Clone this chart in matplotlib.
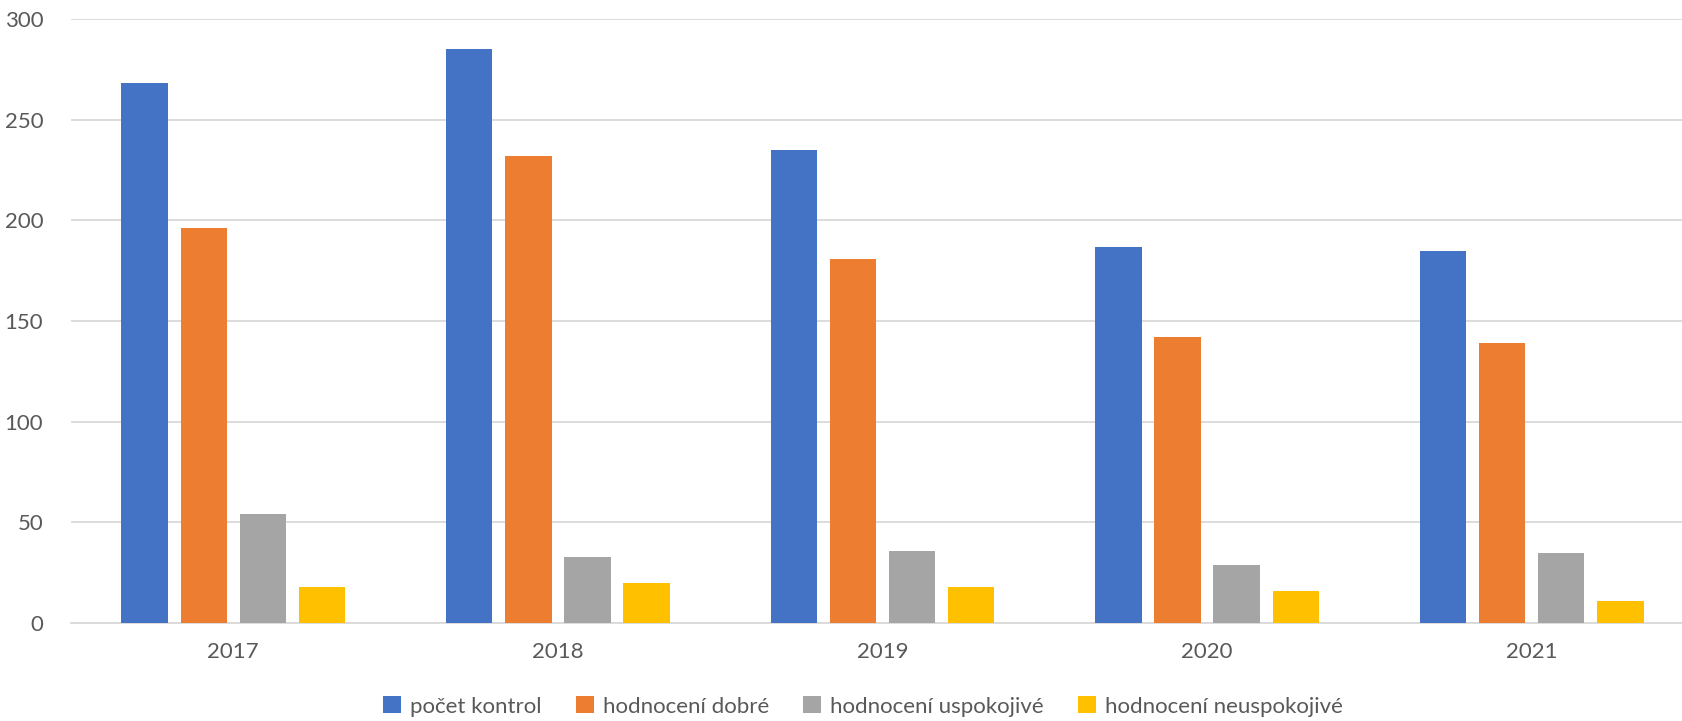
import matplotlib
matplotlib.use("Agg")
import matplotlib.pyplot as plt
import numpy as np
from matplotlib.patches import Patch

years = ["2017", "2018", "2019", "2020", "2021"]
series_names = ["počet kontrol", "hodnocení dobré", "hodnocení uspokojivé", "hodnocení neuspokojivé"]
pocet_kontrol = [268, 285, 235, 187, 185]
hodnoceni_dobre = [196, 232, 181, 142, 139]
hodnoceni_uspokojive = [54, 33, 36, 29, 35]
hodnoceni_neuspokojive = [18, 20, 18, 16, 11]
colors = ["#4472C4", "#ED7D31", "#A5A5A5", "#FFC000"]

plt.rcParams['font.family'] = ['Lato', 'DejaVu Sans']

fig = plt.figure(figsize=(16.82, 7.21), dpi=100)
ax = fig.add_axes([71/1682, 98/721, 1623/1682, 604/721])

x = np.arange(len(years))
step = 0.182
width = 0.143
all_series = [pocet_kontrol, hodnoceni_dobre, hodnoceni_uspokojive, hodnoceni_neuspokojive]
for i, (vals, c) in enumerate(zip(all_series, colors)):
    ax.bar(x + (i - 1.5) * step, vals, width=width, color=c, zorder=3)

ax.set_xlim(-0.5, 4.5)
ax.set_ylim(0, 300)
ax.set_yticks(range(0, 301, 50))
ax.set_xticks(x)
ax.set_xticklabels(years)
ax.grid(axis='y', color='#D9D9D9', linewidth=1.3, zorder=0)
for s in ['top', 'right', 'left']:
    ax.spines[s].set_visible(False)
ax.spines['bottom'].set_color('#D9D9D9')
ax.spines['bottom'].set_linewidth(1.3)
ax.tick_params(axis='both', length=0, labelsize=16, labelcolor='#595959')
ax.tick_params(axis='y', pad=20)
ax.tick_params(axis='x', pad=14)

handles = [Patch(facecolor=c, edgecolor='none') for c in colors]
fig.legend(handles, series_names, loc='center', bbox_to_anchor=(0.513, 0.02),
           ncol=4, frameon=False, fontsize=16, labelcolor='#595959',
           handlelength=0.8, handleheight=0.8, handletextpad=0.4, columnspacing=1.55)

fig.savefig("out.png", dpi=100)
